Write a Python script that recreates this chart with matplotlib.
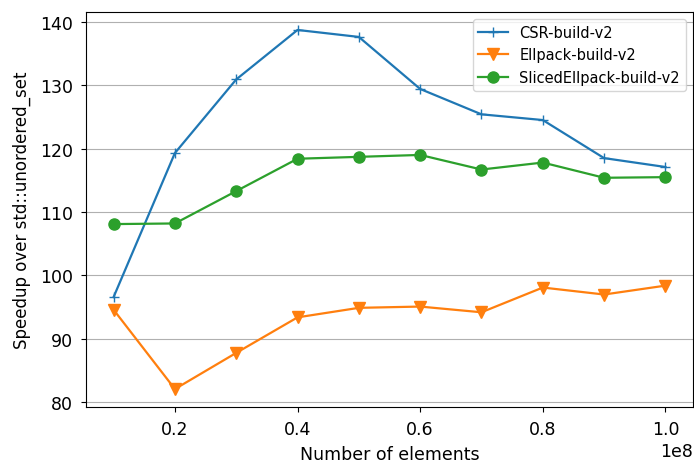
import numpy as np
import matplotlib
matplotlib.use('Agg')
import matplotlib.pyplot as plt

# Data
n_elements = [1e7, 2e7, 3e7, 4e7, 5e7, 6e7, 7e7, 8e7, 9e7, 1e8]
csr = [96.6, 119.3, 130.9, 138.7, 137.6, 129.4, 125.4, 124.5, 118.5, 117.1]
ellpack = [94.6, 82.1, 87.8, 93.4, 94.9, 95.1, 94.2, 98.1, 97.0, 98.4]
sliced = [108.1, 108.2, 113.3, 118.4, 118.7, 119.0, 116.7, 117.8, 115.4, 115.5]

plt.rcParams['font.size'] = 12.5

fig = plt.figure(figsize=(6.94, 4.64), dpi=100)
ax = fig.add_axes([86/694, 1 - 408/464, 607/694, 395/464])

ax.plot(n_elements, csr, marker='+', markersize=7, linewidth=1.6, label='CSR-build-v2')
ax.plot(n_elements, ellpack, marker='v', markersize=9, linewidth=1.6, label='Ellpack-build-v2')
ax.plot(n_elements, sliced, marker='o', markersize=8, linewidth=1.6, label='SlicedEllpack-build-v2')

ax.grid(axis='y')
ax.tick_params(labelsize=12.5, pad=6)
ax.set_xlabel('Number of elements', fontsize=12.5, labelpad=5)
ax.set_ylabel('Speedup over std::unordered_set', fontsize=12, labelpad=6)
ax.legend(loc='upper right', fontsize=10.5)

fig.savefig('out.png', dpi=100, facecolor='white')
